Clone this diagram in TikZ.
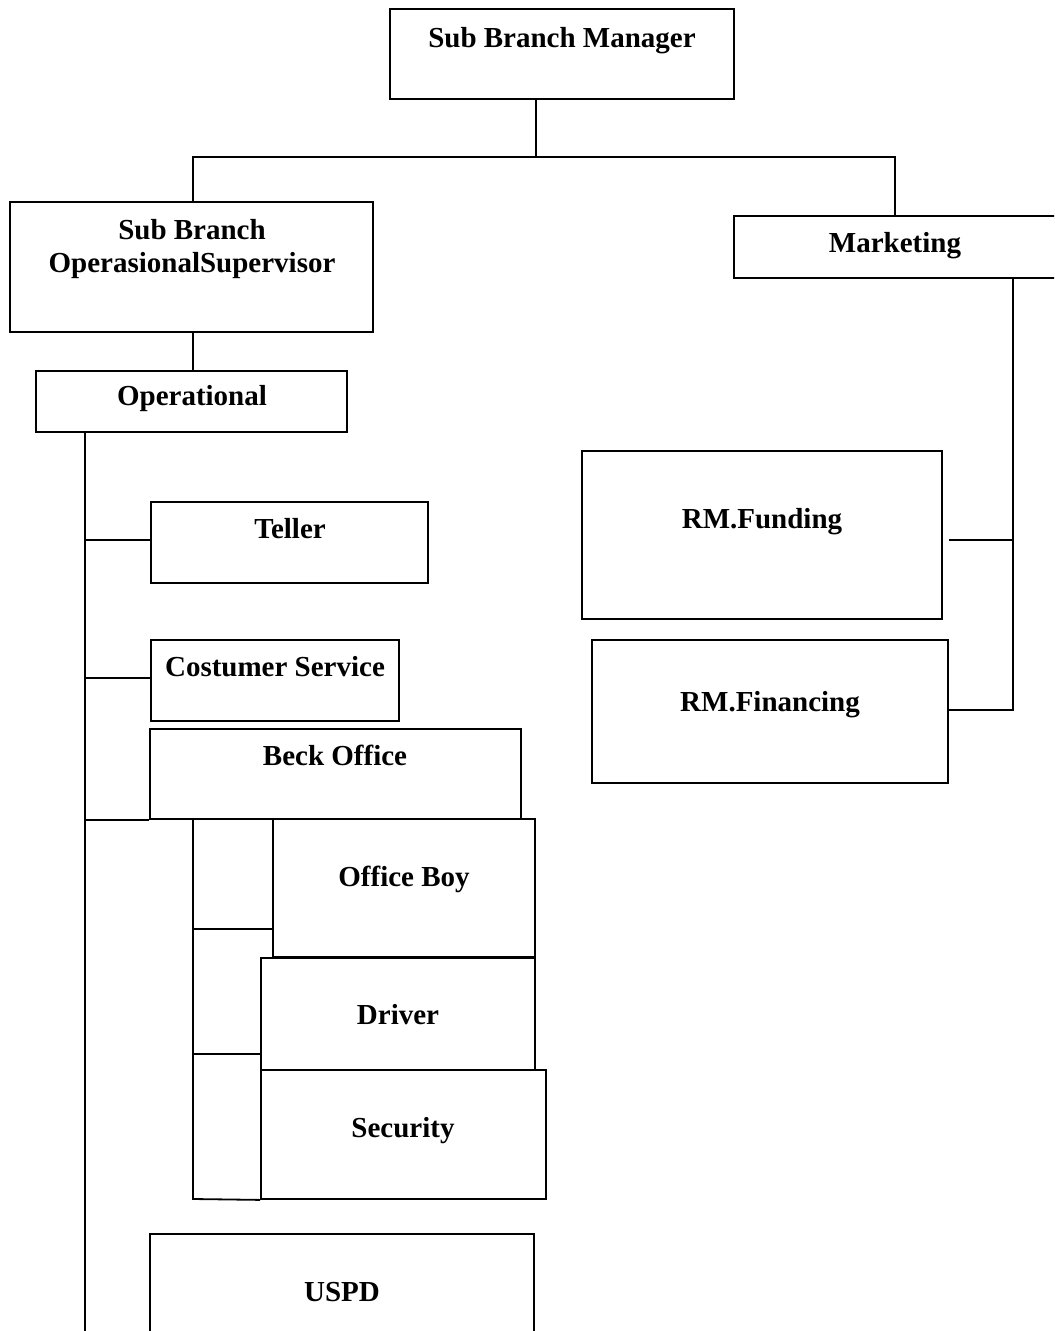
\documentclass[tikz,border=0pt]{standalone}
\usepackage{fontspec}
\setmainfont{Liberation Serif}
\usetikzlibrary{fit}
\tikzset{
  orgbox/.style={draw, line width=0.9pt, inner sep=0pt, fill=white},
  lbl/.style={font=\bfseries\fontsize{14.5}{16.5}\selectfont, inner sep=0pt, anchor=base},
  conn/.style={line width=0.9pt}
}
\begin{document}
\begin{tikzpicture}[x=0.5pt,y=-0.5pt]
\useasboundingbox (0,0) rectangle (1054,1331);
\clip (0,0) rectangle (1054,1331);
% coordinates
\coordinate (busL) at (193,157);
\coordinate (busR) at (895,157);
\coordinate (topDrop) at (536,157);
\coordinate (trunkBot) at (85,1340);
\coordinate (subBot) at (193,1199);
\coordinate (mktTrunk) at (1013,710);
% boxes
\node[orgbox, fit={(390,9) (734,99)}] (sbm) {};
\node[orgbox, fit={(10,202) (373,332)}] (sbos) {};
\node[orgbox, fit={(36,371) (347,432)}] (op) {};
\node[orgbox, fit={(734,216) (1070,278)}] (mkt) {};
\node[orgbox, fit={(151,502) (428,583)}] (teller) {};
\node[orgbox, fit={(151,640) (399,721)}] (cs) {};
\node[orgbox, fit={(150,729) (521,819)}] (beck) {};
\node[orgbox, fit={(273,819) (535,957)}] (ob) {};
\node[orgbox, fit={(261,958) (535,1070)}] (driver) {};
\node[orgbox, fit={(261,1070) (546,1199)}] (sec) {};
\node[orgbox, fit={(150,1234) (534,1345)}] (uspd) {};
\node[orgbox, fit={(582,451) (942,619)}] (rmfund) {};
\node[orgbox, fit={(592,640) (948,783)}] (rmfin) {};
% labels
\node[lbl] (sbmT) at (562,48) {Sub Branch Manager};
\node[font=\bfseries\fontsize{14.5}{16.5}\selectfont, inner sep=0pt, align=center] (sbosT) at (192,249.5) {Sub Branch\\OperasionalSupervisor};
\node[lbl] (opT) at (192,406) {Operational};
\node[lbl] (mktT) at (895,253) {Marketing};
\node[lbl] (tellerT) at (290,538) {Teller};
\node[lbl] (csT) at (275,676) {Costumer Service};
\node[lbl] (beckT) at (335,765) {Beck Office};
\node[lbl] (obT) at (404,886) {Office Boy};
\node[lbl] (driverT) at (398,1024) {Driver};
\node[lbl] (secT) at (403,1137) {Security};
\node[lbl] (uspdT) at (342,1301) {USPD};
\node[lbl] (rmfundT) at (762,528) {RM.Funding};
\node[lbl] (rmfinT) at (770,711) {RM.Financing};
% connectors
\draw[conn] (topDrop |- sbm.south) -- (topDrop);
\draw[conn] (busL |- sbos.north) -- (busL) -- (busR) -- (mkt.north -| busR);
\draw[conn] (busL |- sbos.south) -- (busL |- op.north);
\draw[conn] (op.south -| trunkBot) -- (trunkBot);
\path ([yshift=1.25pt]teller.west) coordinate (te1);
\draw[conn] (te1) -- (te1 -| trunkBot);
\path ([yshift=1.25pt]cs.west) coordinate (cs1);
\draw[conn] (cs1) -- (cs1 -| trunkBot);
\draw[conn] (beck.south west) -- (beck.south west -| trunkBot);
\draw[conn] (subBot |- beck.south) -- (subBot) -- (sec.south west);
\path ([yshift=14.5pt]ob.south west) coordinate (ob1);
\draw[conn] (ob1) -- (ob1 -| subBot);
\path ([yshift=8.5pt]driver.south west) coordinate (dr1);
\draw[conn] (dr1) -- (dr1 -| subBot);
\draw[conn] (mktTrunk |- mkt.south) -- (mktTrunk) -- (rmfin.east |- mktTrunk);
\path ([xshift=3pt,yshift=-2.5pt]rmfund.east) coordinate (rf1);
\draw[conn] (rf1) -- (rf1 -| mktTrunk);
\end{tikzpicture}
\end{document}
